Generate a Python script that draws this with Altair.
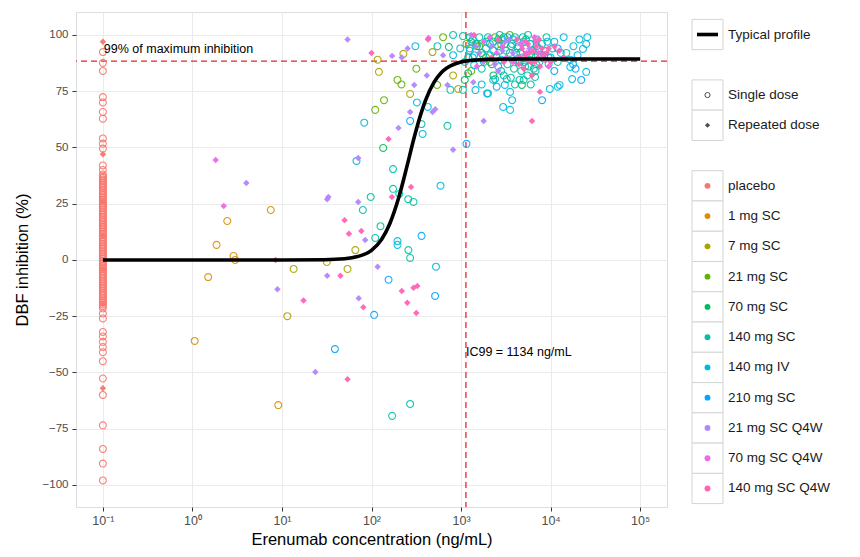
import altair as alt
import pandas as pd

GROUPS = ["placebo", "1 mg SC", "7 mg SC", "21 mg SC", "70 mg SC", "140 mg SC",
          "140 mg IV", "210 mg SC", "21 mg SC Q4W", "70 mg SC Q4W", "140 mg SC Q4W"]
COLORS = ["#F8766D", "#DB8E00", "#AEA200", "#64B200", "#00BD5C", "#00C1A7",
          "#00BADE", "#00A6FF", "#B385FF", "#EF67EB", "#FF63B6"]

# ---- placebo (plotted at 0.1 ng/mL) ----
PLACEBO_X = 0.1
PLACEBO_SINGLE_Y = [92.4, 87.6, 84.0, 72.4, 70.0, 65.8, 62.8, 54.0, 51.7, 49.5, 42.0, 40.0,
                    38.0, 37.2, 36.5, 35.7, 35.0, 34.2, 33.5, 32.7, 32.0, 31.2, 30.5, 29.7,
                    29.0, 28.2, 27.5, 26.7, 26.0, 25.2, 24.5, 23.7, 23.0, 22.2, 21.5, 20.7,
                    20.0, 19.2, 18.5, 17.7, 17.0, 16.2, 15.5, 14.7, 14.0, 13.2, 12.5, 11.7,
                    11.0, 10.2, 9.5, 8.7, 8.0, 7.2, 6.5, 5.7, 5.0, 4.2, 3.5, 2.7, 2.0, 1.2,
                    0.5, -0.3, -1.0, -1.8, -2.5, -3.3, -4.0, -4.8, -5.5, -6.3, -7.0, -7.8,
                    -8.5, -9.3, -10.0, -10.8, -11.5, -12.3, -13.0, -13.8, -14.5, -15.3,
                    -16.0, -16.8, -17.5, -18.3, -19.0, -19.8, -20.5, -21.5, -23.8, -26.0,
                    -32.0, -34.0, -36.4, -38.7, -41.0, -45.0, -52.7, -60.0, -73.5, -84.0,
                    -90.5, -98.0]
PLACEBO_REPEATED_Y = [97.0, 47.0, 26.0, 11.0, -4.0, -19.5, -57.0]

# ---- single-dose groups ----
MG1_X = [1.06, 1.5, 1.86, 2.45, 2.88, 3.0, 7.5, 9.1]
MG1_Y = [-36.0, -7.6, 6.7, 17.3, 1.8, 0.0, 22.2, -64.5]

MG7_X = [11.5, 13.5, 31.7, 54, 66, 117, 121, 227, 270, 480, 815, 930, 1450, 2100]
MG7_Y = [-25.0, -4.0, -0.9, -4.0, 4.4, 89.0, 83.6, 91.6, 73.8, 92.4, 82.0, 76.0, 96.0, 88.0]

MG21_X = [110, 138, 195, 216, 317, 540, 630, 1150, 1600, 2400, 1300, 1900, 2800, 3500]
MG21_Y = [66.7, 71.0, 80.0, 78.0, 85.0, 77.8, 99.0, 96.0, 95.0, 99.0, 84.0, 90.0, 96.0, 100.0]

MG70_X = [135, 730, 1250, 1700, 2200, 3000, 4100, 4780, 5300, 6800, 1200, 2700, 1100,
          1500, 1900, 2600, 3600, 4500, 5700, 8000, 2300]
MG70_Y = [49.8, 94.7, 99.0, 92.0, 87.0, 99.0, 92.0, 77.8, 98.0, 90.0, 83.0, 93.0, 80.0,
          95.0, 97.0, 98.0, 95.0, 88.0, 86.0, 91.0, 82.0]

MG140SC_X = [80, 98, 110, 126, 170, 174, 174, 204, 257, 258, 270, 270, 294, 362, 545, 705,
             760, 815, 1050, 1050, 1200, 1300, 1600, 1900, 2300, 2700, 3100, 3500, 4000,
             4400, 5000, 5600, 6300, 7000, 8000, 9000, 10500, 1400, 1800, 2500, 3300, 3900,
             4300, 4700, 5200, 5800, 6500, 7500, 3600, 4500, 5500, 2800, 6700, 2400, 3240,
             12000, 15000, 1100, 1250, 1500, 2000, 2100, 2600, 2900, 3200, 3700, 4100, 4600,
             4900, 5300, 5900, 6100, 6900, 7300, 7800, 8700, 9500, 1700, 3000, 4000, 5000,
             6000, 6800]
MG140SC_Y = [22.2, 28.0, 9.8, 15.0, -69.3, 40.4, 31.6, 29.3, 27.0, 4.4, 0.9, -64.0, 25.8,
             60.4, 95.0, 59.6, 75.6, 100.0, 99.5, 75.6, 90.0, 97.0, 99.0, 94.0, 97.0, 100.0,
             96.0, 92.0, 99.0, 95.0, 97.0, 100.0, 93.0, 98.0, 96.0, 99.0, 94.0, 91.0, 88.0,
             90.0, 87.0, 85.0, 88.0, 84.0, 86.0, 89.0, 85.0, 88.0, 81.0, 80.0, 82.0, 84.0,
             81.3, 80.4, 80.4, 88.0, 92.0, 88.0, 93.0, 96.0, 99.0, 91.0, 95.0, 98.0, 93.0,
             96.0, 89.0, 92.0, 99.0, 94.0, 96.0, 91.0, 87.0, 94.0, 90.0, 93.0, 87.0, 85.0,
             82.0, 78.0, 80.0, 78.0, 84.0]

MG140IV_X = [68, 83, 195, 195, 309, 322, 372, 425, 525, 590, 815, 980, 1450, 1950, 2290,
             3080, 3530, 3720, 2950, 3530, 1700, 2000, 9800, 12000, 12600, 17400, 25000,
             25700, 25000, 23000, 16600, 17800, 16600, 1400, 2100, 3800, 6000, 8500, 11000,
             14000, 4800, 2600, 1250, 20000, 1350, 1750, 2300, 2800, 3300, 4300, 5100, 7000,
             9200, 10000, 13000, 18000, 21000]
MG140IV_Y = [44.0, 61.0, 8.4, 6.7, 95.0, 70.0, 56.0, 68.0, -3.0, 33.0, 91.0, 94.0, 75.5,
             74.0, 80.0, 77.8, 74.7, 71.0, 68.0, 66.7, 78.0, 74.0, 76.0, 77.0, 77.8, 80.4,
             83.6, 99.0, 96.0, 93.8, 85.8, 87.0, 89.0, 86.6, 96.0, 98.0, 96.0, 91.0, 97.0,
             99.0, 90.0, 86.0, 94.0, 91.0, 98.0, 91.0, 93.0, 89.0, 99.0, 94.0, 88.0, 95.0,
             97.0, 90.0, 92.0, 95.0, 98.0]

MG210_X = [39, 107, 155, 270, 362, 513, 1150, 8030, 19000, 22000, 9500, 1350, 11000, 2500, 12000]
MG210_Y = [-39.6, -24.4, -8.8, 61.8, 10.7, -16.0, 51.6, 71.0, 85.0, 80.0, 90.0, 90.0, 84.0,
           77.0, 94.0]

# ---- repeated-dose (Q4W) groups ----
Q21_X = [4.0, 8.9, 23.6, 32, 33, 32, 54, 71, 72, 71, 85, 117, 170, 200, 218, 253, 270, 300,
         415, 480, 515, 630, 705, 815, 1370, 1790, 1780, 1300, 1600, 2200, 2900, 3400, 4200,
         5800, 2600, 1450, 2400, 3100, 3800, 4900]
Q21_Y = [34.2, -13.0, -49.8, 27.0, 28.0, -7.0, 98.0, 25.8, -17.0, 45.3, 8.9, -3.0, 90.7,
         58.7, 90.0, 94.0, 65.8, 77.8, 82.0, 65.8, 67.0, 91.0, 77.8, 49.0, 79.0, 61.8, 88.0,
         100.0, 92.0, 95.0, 93.0, 98.0, 90.0, 94.0, 84.0, 95.0, 87.0, 97.0, 92.0, 97.0]

Q70_X = [1.82, 2.24, 1800, 2500, 3200, 4600, 7300, 9500, 1500, 433, 2100, 2900, 3800, 5400, 6600]
Q70_Y = [44.4, 24.0, 97.0, 92.0, 90.0, 96.0, 92.0, 86.0, 86.0, 98.6, 99.0, 95.0, 88.0, 92.0, 99.0]

Q140_X = [8.5, 17.4, 45, 50, 54, 56, 77, 81, 100, 155, 169, 218, 251, 276, 295, 316, 325,
          427, 4200, 4800, 5200, 5600, 6000, 6400, 6800, 7200, 7600, 8000, 8500, 9000, 10000,
          11000, 5000, 6200, 7600, 6200, 5500, 14000, 12500, 3000, 1400, 2200, 4400, 4600,
          5300, 5800, 6600, 7000, 7400, 8200, 9500, 2600]
Q140_Y = [0.0, -18.0, -7.0, 17.7, -53.0, 11.6, 12.9, -21.0, 92.0, 53.8, 28.0, -13.8, -19.0,
          32.4, -12.4, -23.6, -11.6, 98.0, 98.0, 94.0, 91.0, 96.0, 88.0, 93.0, 97.0, 90.0,
          86.0, 94.0, 89.0, 92.0, 88.0, 95.0, 85.0, 82.0, 74.7, 61.8, 89.0, 90.0, 93.0, 88.0,
          100.0, 90.0, 87.0, 90.0, 97.0, 92.0, 88.0, 95.0, 98.0, 91.0, 94.0, 98.0]

# ---- typical profile ----
CURVE_X = [0.1, 1, 10, 30, 50, 70, 100, 130, 160, 200, 250, 300, 350, 400, 500, 600, 700,
           850, 1000, 1500, 2000, 5000, 100000]
CURVE_Y = [0.0, 0.0, 0.0, 0.1, 0.5, 1.5, 4.3, 9.2, 16.1, 27.3, 41.9, 54.5, 64.0, 70.8, 79.0,
           83.2, 85.4, 87.1, 88.0, 88.9, 89.15, 89.3, 89.3]

IC99 = 1134
MAX99 = 88.4
X_TICKS = [0.1, 1, 10, 100, 1000, 10000, 100000]
Y_TICKS = [-100, -75, -50, -25, 0, 25, 50, 75, 100]

FONT = "Liberation Sans"

single_rows = [{"x": PLACEBO_X, "y": v, "group": "placebo"} for v in PLACEBO_SINGLE_Y]
for name, xs, ys in [("1 mg SC", MG1_X, MG1_Y), ("7 mg SC", MG7_X, MG7_Y),
                     ("21 mg SC", MG21_X, MG21_Y), ("70 mg SC", MG70_X, MG70_Y),
                     ("140 mg SC", MG140SC_X, MG140SC_Y), ("140 mg IV", MG140IV_X, MG140IV_Y),
                     ("210 mg SC", MG210_X, MG210_Y)]:
    single_rows += [{"x": a, "y": b, "group": name} for a, b in zip(xs, ys)]
single_df = pd.DataFrame(single_rows)

rep_rows = [{"x": PLACEBO_X, "y": v, "group": "placebo"} for v in PLACEBO_REPEATED_Y]
for name, xs, ys in [("21 mg SC Q4W", Q21_X, Q21_Y), ("70 mg SC Q4W", Q70_X, Q70_Y),
                     ("140 mg SC Q4W", Q140_X, Q140_Y)]:
    rep_rows += [{"x": a, "y": b, "group": name} for a, b in zip(xs, ys)]
rep_df = pd.DataFrame(rep_rows)

curve_df = pd.DataFrame({"x": CURVE_X, "y": CURVE_Y})

xscale = alt.Scale(type="log", domain=[10 ** -1.3, 10 ** 5.3], nice=False)
yscale = alt.Scale(domain=[-109.8, 110.2], nice=False, zero=False)
color_scale = alt.Scale(domain=GROUPS, range=COLORS)

label_expr = ("datum.value < 0.5 ? '10⁻¹' : datum.value < 5 ? '10⁰' : datum.value < 50 ? '10¹' : "
              "datum.value < 500 ? '10²' : datum.value < 5000 ? '10³' : datum.value < 50000 ? '10⁴' : '10⁵'")

xaxis = alt.Axis(values=X_TICKS, labelExpr=label_expr, title="Erenumab concentration (ng/mL)",
                 grid=True, gridColor="#EBEBEB", domain=False, tickColor="#333333", tickSize=4,
                 labelColor="#4D4D4D", labelFontSize=12.5, labelPadding=3, titleFontSize=16.5,
                 titleFontWeight="normal", titleColor="#000000", titlePadding=5, labelFont=FONT,
                 titleFont=FONT)
yaxis = alt.Axis(values=Y_TICKS, title="DBF inhibition (%)", grid=True, gridColor="#EBEBEB",
                 domain=False, tickColor="#333333", tickSize=4, labelColor="#4D4D4D",
                 labelFontSize=11.5, labelPadding=4, titleFontSize=16.5, titleFontWeight="normal",
                 titleColor="#000000", titlePadding=12, labelFont=FONT, titleFont=FONT)

X = alt.X("x:Q", scale=xscale, axis=xaxis)
Y = alt.Y("y:Q", scale=yscale, axis=yaxis)

hline = alt.Chart(pd.DataFrame({"y": [MAX99]})).mark_rule(
    color="#E3262B", strokeDash=[6, 4], strokeWidth=1.3).encode(y=alt.Y("y:Q", scale=yscale, axis=yaxis))
vline = alt.Chart(pd.DataFrame({"x": [IC99]})).mark_rule(
    color="#E3262B", strokeDash=[6, 4], strokeWidth=1.3).encode(x=alt.X("x:Q", scale=xscale, axis=xaxis))

circles = alt.Chart(single_df).mark_point(shape="circle", filled=False, size=48, strokeWidth=1.1,
                                          opacity=0.9).encode(
    x=X, y=Y, color=alt.Color("group:N", scale=color_scale, legend=None))
diamonds = alt.Chart(rep_df).mark_point(shape="diamond", filled=True, size=42, opacity=0.95).encode(
    x=X, y=Y, color=alt.Color("group:N", scale=color_scale, legend=None))

curve = alt.Chart(curve_df).mark_line(color="black", strokeWidth=3.6, interpolate="monotone").encode(x=X, y=Y)

ann1 = alt.Chart(pd.DataFrame({"x": [0.1], "y": [93.6], "t": ["99% of maximum inhibition"]})).mark_text(
    align="left", baseline="middle", fontSize=12.5, font=FONT, color="#000000", dx=1).encode(x=X, y=Y, text="t:N")
ann2 = alt.Chart(pd.DataFrame({"x": [IC99], "y": [-41.0], "t": ["IC99 = 1134 ng/mL"]})).mark_text(
    align="left", baseline="middle", fontSize=12.5, font=FONT, color="#000000", dx=0).encode(x=X, y=Y, text="t:N")

main = alt.layer(hline, vline, circles, diamonds, curve, ann1, ann2).properties(width=591, height=495)

# ---- manual legend (ggplot style key boxes) ----
SLOTS = ["Typical profile", " ", "Single dose", "Repeated dose", "  "] + GROUPS
slot_scale = alt.Scale(domain=SLOTS, paddingInner=0, paddingOuter=0.244)
LY = alt.Y("label:N", scale=slot_scale, axis=None)

box_df = pd.DataFrame({"label": ["Typical profile", "Single dose", "Repeated dose"] + GROUPS})
boxes = alt.Chart(box_df).mark_rect(fill="white", stroke="#D4D4D4", strokeWidth=1).encode(
    x=alt.value(4), x2=alt.value(35), y=LY)
line_key = alt.Chart(pd.DataFrame({"label": ["Typical profile"]})).mark_rule(
    color="black", strokeWidth=3.6).encode(x=alt.value(9), x2=alt.value(30), y=LY)
single_key = alt.Chart(pd.DataFrame({"label": ["Single dose"]})).mark_point(
    shape="circle", filled=False, size=26, color="black", strokeWidth=1).encode(x=alt.value(19.5), y=LY)
rep_key = alt.Chart(pd.DataFrame({"label": ["Repeated dose"]})).mark_point(
    shape="diamond", filled=True, size=26, color="black").encode(x=alt.value(19.5), y=LY)
color_key = alt.Chart(pd.DataFrame({"label": GROUPS})).mark_point(
    shape="circle", filled=True, size=34, opacity=1).encode(
    x=alt.value(19.5), y=LY, color=alt.Color("label:N", scale=color_scale, legend=None))
labels = alt.Chart(box_df).mark_text(align="left", baseline="middle", fontSize=13.5, font=FONT,
                                      color="#1A1A1A").encode(x=alt.value(40), y=LY, text="label:N")

legend = alt.layer(boxes, line_key, single_key, rep_key, color_key, labels).properties(
    width=160, height=499, view=alt.ViewBackground(stroke="transparent"))

chart = alt.hconcat(main, legend, spacing=18).properties(
    padding={"left": 13, "top": 10, "right": 0, "bottom": 5}
).configure_view(stroke="#9E9E9E", strokeWidth=1).configure(font=FONT)

chart.save("out.html", embed_options={"renderer": "svg", "actions": False})
